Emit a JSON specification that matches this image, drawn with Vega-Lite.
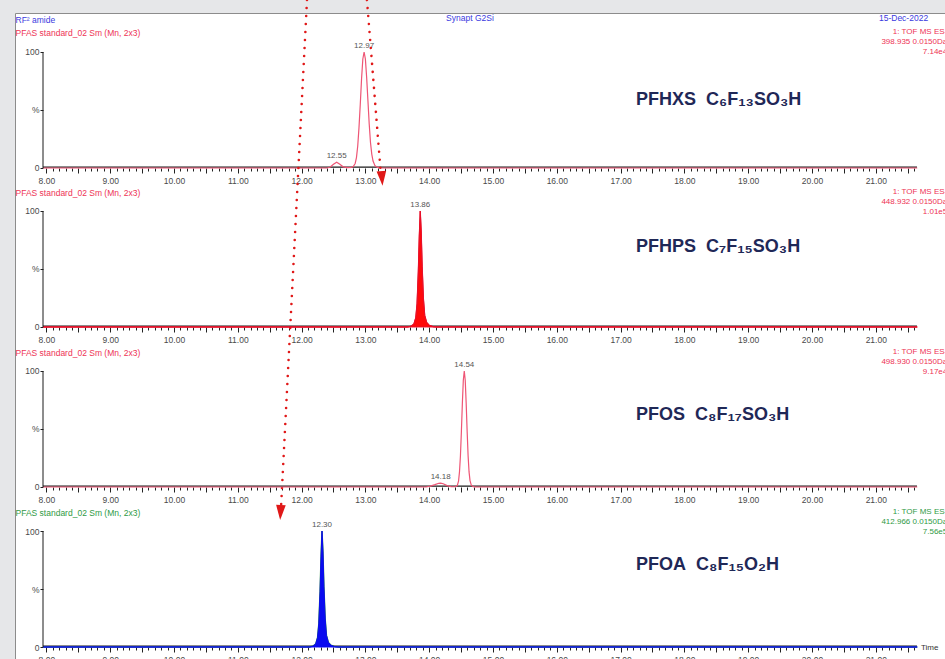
{
  "$schema": "https://vega.github.io/schema/vega-lite/v6.json",
  "width": 930,
  "height": 646,
  "autosize": {"type": "none"},
  "padding": {"left": 15, "top": 13, "right": 0, "bottom": 0},
  "background": "#e6e7e9",
  "config": {
    "font": "Liberation Sans",
    "view": {"fill": "white", "stroke": "#8c8c8c", "strokeWidth": 1},
    "axis": {"domain": false, "grid": false, "tickColor": "#222222", "tickWidth": 1, "labelColor": "#4a4a4a", "labelFontSize": 8.5, "labelOverlap": false, "labelFlush": false, "labelBound": false}
  },
  "datasets": {
    "pfhxs": [
      {"time": 7.95, "intensity": 0}, {"time": 12.40, "intensity": 0}, {"time": 12.45, "intensity": 0.8}, {"time": 12.50, "intensity": 3.2}, {"time": 12.55, "intensity": 5}, {"time": 12.60, "intensity": 3.2}, {"time": 12.65, "intensity": 1}, {"time": 12.72, "intensity": 0.3}, {"time": 12.78, "intensity": 0.5}, {"time": 12.81, "intensity": 1.2}, {"time": 12.84, "intensity": 3.9}, {"time": 12.86, "intensity": 9}, {"time": 12.88, "intensity": 19}, {"time": 12.90, "intensity": 35}, {"time": 12.92, "intensity": 55}, {"time": 12.94, "intensity": 77}, {"time": 12.96, "intensity": 94}, {"time": 12.98, "intensity": 100}, {"time": 13.00, "intensity": 94}, {"time": 13.02, "intensity": 78}, {"time": 13.04, "intensity": 58}, {"time": 13.06, "intensity": 38}, {"time": 13.08, "intensity": 22}, {"time": 13.10, "intensity": 12}, {"time": 13.12, "intensity": 6}, {"time": 13.15, "intensity": 2}, {"time": 13.19, "intensity": 0.5}, {"time": 13.24, "intensity": 0}, {"time": 21.65, "intensity": 0}
    ],
    "pfhxs_peaks": [{"time": 12.98, "intensity": 100, "label": "12.97"}, {"time": 12.55, "intensity": 5, "label": "12.55"}],
    "pfhps": [
      {"time": 7.95, "intensity": 0}, {"time": 13.66, "intensity": 0}, {"time": 13.72, "intensity": 0.8}, {"time": 13.76, "intensity": 2.5}, {"time": 13.79, "intensity": 8}, {"time": 13.81, "intensity": 20}, {"time": 13.83, "intensity": 48}, {"time": 13.845, "intensity": 78}, {"time": 13.86, "intensity": 100}, {"time": 13.875, "intensity": 82}, {"time": 13.89, "intensity": 52}, {"time": 13.91, "intensity": 24}, {"time": 13.93, "intensity": 10}, {"time": 13.96, "intensity": 4}, {"time": 14.00, "intensity": 1.5}, {"time": 14.06, "intensity": 0.3}, {"time": 14.12, "intensity": 0}, {"time": 21.65, "intensity": 0}
    ],
    "pfhps_peaks": [{"time": 13.86, "intensity": 100, "label": "13.86"}],
    "pfos": [
      {"time": 7.95, "intensity": 0}, {"time": 13.95, "intensity": 0}, {"time": 14.02, "intensity": 0.8}, {"time": 14.09, "intensity": 2}, {"time": 14.15, "intensity": 3.2}, {"time": 14.18, "intensity": 3.4}, {"time": 14.22, "intensity": 2.8}, {"time": 14.28, "intensity": 1.2}, {"time": 14.34, "intensity": 0.4}, {"time": 14.41, "intensity": 0.2}, {"time": 14.44, "intensity": 1.2}, {"time": 14.46, "intensity": 5}, {"time": 14.475, "intensity": 13}, {"time": 14.49, "intensity": 27}, {"time": 14.505, "intensity": 48}, {"time": 14.52, "intensity": 72}, {"time": 14.535, "intensity": 92}, {"time": 14.55, "intensity": 100}, {"time": 14.565, "intensity": 92}, {"time": 14.58, "intensity": 72}, {"time": 14.595, "intensity": 48}, {"time": 14.61, "intensity": 27}, {"time": 14.625, "intensity": 13}, {"time": 14.64, "intensity": 5.5}, {"time": 14.66, "intensity": 1.5}, {"time": 14.69, "intensity": 0.3}, {"time": 14.72, "intensity": 0}, {"time": 21.65, "intensity": 0}
    ],
    "pfos_peaks": [{"time": 14.55, "intensity": 100, "label": "14.54"}, {"time": 14.18, "intensity": 3.4, "label": "14.18"}],
    "pfoa": [
      {"time": 7.95, "intensity": 0}, {"time": 12.12, "intensity": 0}, {"time": 12.18, "intensity": 0.8}, {"time": 12.22, "intensity": 2.5}, {"time": 12.25, "intensity": 8}, {"time": 12.27, "intensity": 20}, {"time": 12.29, "intensity": 48}, {"time": 12.305, "intensity": 78}, {"time": 12.32, "intensity": 100}, {"time": 12.335, "intensity": 82}, {"time": 12.35, "intensity": 52}, {"time": 12.37, "intensity": 24}, {"time": 12.39, "intensity": 10}, {"time": 12.42, "intensity": 4}, {"time": 12.46, "intensity": 1.5}, {"time": 12.52, "intensity": 0.3}, {"time": 12.58, "intensity": 0}, {"time": 21.65, "intensity": 0}
    ],
    "pfoa_peaks": [{"time": 12.32, "intensity": 100, "label": "12.30"}]
  },
  "layer": [
    {
      "data": {"values": [{}]},
      "layer": [
        {"mark": {"type": "rule", "color": "#1a1a1a", "strokeWidth": 1.2, "yOffset": -0.8}, "encoding": {"x": {"datum": 7.947, "type": "quantitative"}, "x2": {"datum": 21.646}, "y": {"datum": 0, "type": "quantitative"}}},
        {
          "data": {"name": "pfhxs"},
          "mark": {"type": "line", "color": "#ee5575", "strokeWidth": 1.2},
          "encoding": {
            "x": {"field": "time", "type": "quantitative", "scale": {"domain": [7.508, 22.085], "nice": false, "zero": false},
              "axis": {"orient": "bottom", "offset": -491, "title": null, "tickCount": 300, "values": [8,8.1,8.2,8.3,8.4,8.5,8.6,8.7,8.8,8.9,9,9.1,9.2,9.3,9.4,9.5,9.6,9.7,9.8,9.9,10,10.1,10.2,10.3,10.4,10.5,10.6,10.7,10.8,10.9,11,11.1,11.2,11.3,11.4,11.5,11.6,11.7,11.8,11.9,12,12.1,12.2,12.3,12.4,12.5,12.6,12.7,12.8,12.9,13,13.1,13.2,13.3,13.4,13.5,13.6,13.7,13.8,13.9,14,14.1,14.2,14.3,14.4,14.5,14.6,14.7,14.8,14.9,15,15.1,15.2,15.3,15.4,15.5,15.6,15.7,15.8,15.9,16,16.1,16.2,16.3,16.4,16.5,16.6,16.7,16.8,16.9,17,17.1,17.2,17.3,17.4,17.5,17.6,17.7,17.8,17.9,18,18.1,18.2,18.3,18.4,18.5,18.6,18.7,18.8,18.9,19,19.1,19.2,19.3,19.4,19.5,19.6,19.7,19.8,19.9,20,20.1,20.2,20.3,20.4,20.5,20.6,20.7,20.8,20.9,21,21.1,21.2,21.3,21.4,21.5,21.6],
                "labelExpr": "abs(datum.value - round(datum.value)) < 0.01 ? format(datum.value, '.2f') : ''",
                "tickSize": {"condition": {"test": "abs(datum.value*2 - round(datum.value*2)) < 0.01", "value": 5}, "value": 3}, "labelPadding": 3}},
            "y": {"field": "intensity", "type": "quantitative", "scale": {"domain": [-423.28, 133.62], "nice": false, "zero": false},
              "axis": {"orient": "left", "offset": -28, "title": null, "values": [0, 50, 100], "labelExpr": "datum.value == 50 ? '%' : datum.label", "tickSize": 3, "labelPadding": 1}}
          }
        },
        {"mark": {"type": "rule", "color": "#1a1a1a", "strokeWidth": 1}, "encoding": {"x": {"datum": 7.947, "type": "quantitative"}, "y": {"datum": 0, "type": "quantitative"}, "y2": {"datum": 100}}},
        {"data": {"name": "pfhxs_peaks"}, "mark": {"type": "text", "fontSize": 8, "color": "#555555", "baseline": "bottom", "dy": -2}, "encoding": {"x": {"field": "time", "type": "quantitative"}, "y": {"field": "intensity", "type": "quantitative"}, "text": {"field": "label"}}},
        {"mark": {"type": "text", "fontSize": 8.5, "color": "#3a3ae0", "align": "left", "baseline": "middle"}, "encoding": {"x": {"datum": 7.516, "type": "quantitative"}, "y": {"datum": 127.6, "type": "quantitative"}, "text": {"value": "RF² amide"}}},
        {"mark": {"type": "text", "fontSize": 8.5, "color": "#3a3ae0", "align": "center", "baseline": "middle"}, "encoding": {"x": {"datum": 14.639, "type": "quantitative"}, "y": {"datum": 129.3, "type": "quantitative"}, "text": {"value": "Synapt G2Si"}}},
        {"mark": {"type": "text", "fontSize": 8.5, "color": "#3a3ae0", "align": "left", "baseline": "middle"}, "encoding": {"x": {"datum": 21.05, "type": "quantitative"}, "y": {"datum": 129.3, "type": "quantitative"}, "text": {"value": "15-Dec-2022"}}},
        {"mark": {"type": "text", "fontSize": 8.5, "color": "#ee3355", "align": "left", "baseline": "middle"}, "encoding": {"x": {"datum": 7.516, "type": "quantitative"}, "y": {"datum": 116.4, "type": "quantitative"}, "text": {"value": "PFAS standard_02 Sm (Mn, 2x3)"}}},
        {"mark": {"type": "text", "fontSize": 8, "color": "#ee3355", "align": "right", "baseline": "middle"}, "encoding": {"x": {"datum": 22.12, "type": "quantitative"}, "y": {"datum": 117.3, "type": "quantitative"}, "text": {"value": "1: TOF MS ES-"}}},
        {"mark": {"type": "text", "fontSize": 8, "color": "#ee3355", "align": "right", "baseline": "middle"}, "encoding": {"x": {"datum": 22.12, "type": "quantitative"}, "y": {"datum": 108.7, "type": "quantitative"}, "text": {"value": "398.935 0.0150Da"}}},
        {"mark": {"type": "text", "fontSize": 8, "color": "#ee3355", "align": "right", "baseline": "middle"}, "encoding": {"x": {"datum": 22.12, "type": "quantitative"}, "y": {"datum": 100.1, "type": "quantitative"}, "text": {"value": "7.14e4"}}},
        {"mark": {"type": "text", "fontSize": 18, "fontWeight": "bold", "color": "#1f2857", "align": "left", "baseline": "middle"}, "encoding": {"x": {"datum": 17.241, "type": "quantitative"}, "y": {"datum": 58.6, "type": "quantitative"}, "text": {"value": "PFHXS\u00a0\u00a0C₆F₁₃SO₃H"}}},
        {"mark": {"type": "rule", "color": "#e01818", "strokeWidth": 2.6, "strokeDash": [0.01, 8], "strokeCap": "round"}, "encoding": {"x": {"datum": 13.025, "type": "quantitative"}, "y": {"datum": 144.8, "type": "quantitative"}, "x2": {"datum": 13.245}, "y2": {"datum": -6.9}}},
        {"mark": {"type": "rule", "color": "#e01818", "strokeWidth": 2.6, "strokeDash": [0.01, 8], "strokeCap": "round"}, "encoding": {"x": {"datum": 12.085, "type": "quantitative"}, "y": {"datum": 144.8, "type": "quantitative"}, "x2": {"datum": 11.677}, "y2": {"datum": -293.1}}},
        {"mark": {"type": "point", "shape": "M-0.65,-1L0.65,-1L0,1Z", "size": 220, "filled": true, "color": "#e01818", "opacity": 1, "angle": -4.5}, "encoding": {"x": {"datum": 13.26, "type": "quantitative"}, "y": {"datum": -9, "type": "quantitative"}}},
        {"mark": {"type": "point", "shape": "M-0.65,-1L0.65,-1L0,1Z", "size": 220, "filled": true, "color": "#e01818", "opacity": 1, "angle": 3}, "encoding": {"x": {"datum": 11.67, "type": "quantitative"}, "y": {"datum": -297, "type": "quantitative"}}}
      ]
    },
    {
      "data": {"values": [{}]},
      "layer": [
        {"mark": {"type": "rule", "color": "#1a1a1a", "strokeWidth": 1.2, "yOffset": -0.8}, "encoding": {"x": {"datum": 7.947, "type": "quantitative"}, "x2": {"datum": 21.646}, "y": {"datum": 0, "type": "quantitative"}}},
        {
          "data": {"name": "pfhps"},
          "mark": {"type": "line", "color": "#e8102a", "strokeWidth": 1.2},
          "encoding": {
            "x": {"field": "time", "type": "quantitative", "scale": {"domain": [7.508, 22.085], "nice": false, "zero": false},
              "axis": {"orient": "bottom", "offset": -332, "title": null, "tickCount": 300, "values": [8,8.1,8.2,8.3,8.4,8.5,8.6,8.7,8.8,8.9,9,9.1,9.2,9.3,9.4,9.5,9.6,9.7,9.8,9.9,10,10.1,10.2,10.3,10.4,10.5,10.6,10.7,10.8,10.9,11,11.1,11.2,11.3,11.4,11.5,11.6,11.7,11.8,11.9,12,12.1,12.2,12.3,12.4,12.5,12.6,12.7,12.8,12.9,13,13.1,13.2,13.3,13.4,13.5,13.6,13.7,13.8,13.9,14,14.1,14.2,14.3,14.4,14.5,14.6,14.7,14.8,14.9,15,15.1,15.2,15.3,15.4,15.5,15.6,15.7,15.8,15.9,16,16.1,16.2,16.3,16.4,16.5,16.6,16.7,16.8,16.9,17,17.1,17.2,17.3,17.4,17.5,17.6,17.7,17.8,17.9,18,18.1,18.2,18.3,18.4,18.5,18.6,18.7,18.8,18.9,19,19.1,19.2,19.3,19.4,19.5,19.6,19.7,19.8,19.9,20,20.1,20.2,20.3,20.4,20.5,20.6,20.7,20.8,20.9,21,21.1,21.2,21.3,21.4,21.5,21.6],
                "labelExpr": "abs(datum.value - round(datum.value)) < 0.01 ? format(datum.value, '.2f') : ''",
                "tickSize": {"condition": {"test": "abs(datum.value*2 - round(datum.value*2)) < 0.01", "value": 5}, "value": 3}, "labelPadding": 3}},
            "y": {"field": "intensity", "type": "quantitative", "scale": {"domain": [-286.21, 270.69], "nice": false, "zero": false},
              "axis": {"orient": "left", "offset": -28, "title": null, "values": [0, 50, 100], "labelExpr": "datum.value == 50 ? '%' : datum.label", "tickSize": 3, "labelPadding": 1}}
          }
        },
        {"data": {"name": "pfhps"}, "mark": {"type": "area", "color": "#ff0a0a", "stroke": "#e8102a", "strokeWidth": 1}, "encoding": {"x": {"field": "time", "type": "quantitative"}, "y": {"field": "intensity", "type": "quantitative"}, "y2": {"datum": 0}}},
        {"mark": {"type": "rule", "color": "#1a1a1a", "strokeWidth": 1}, "encoding": {"x": {"datum": 7.947, "type": "quantitative"}, "y": {"datum": 0, "type": "quantitative"}, "y2": {"datum": 100}}},
        {"data": {"name": "pfhps_peaks"}, "mark": {"type": "text", "fontSize": 8, "color": "#555555", "baseline": "bottom", "dy": -2}, "encoding": {"x": {"field": "time", "type": "quantitative"}, "y": {"field": "intensity", "type": "quantitative"}, "text": {"field": "label"}}},
        {"mark": {"type": "text", "fontSize": 8.5, "color": "#ee3355", "align": "left", "baseline": "middle"}, "encoding": {"x": {"datum": 7.516, "type": "quantitative"}, "y": {"datum": 115.5, "type": "quantitative"}, "text": {"value": "PFAS standard_02 Sm (Mn, 2x3)"}}},
        {"mark": {"type": "text", "fontSize": 8, "color": "#ee3355", "align": "right", "baseline": "middle"}, "encoding": {"x": {"datum": 22.12, "type": "quantitative"}, "y": {"datum": 116.4, "type": "quantitative"}, "text": {"value": "1: TOF MS ES-"}}},
        {"mark": {"type": "text", "fontSize": 8, "color": "#ee3355", "align": "right", "baseline": "middle"}, "encoding": {"x": {"datum": 22.12, "type": "quantitative"}, "y": {"datum": 107.8, "type": "quantitative"}, "text": {"value": "448.932 0.0150Da"}}},
        {"mark": {"type": "text", "fontSize": 8, "color": "#ee3355", "align": "right", "baseline": "middle"}, "encoding": {"x": {"datum": 22.12, "type": "quantitative"}, "y": {"datum": 99.1, "type": "quantitative"}, "text": {"value": "1.01e5"}}},
        {"mark": {"type": "text", "fontSize": 18, "fontWeight": "bold", "color": "#1f2857", "align": "left", "baseline": "middle"}, "encoding": {"x": {"datum": 17.241, "type": "quantitative"}, "y": {"datum": 69.0, "type": "quantitative"}, "text": {"value": "PFHPS\u00a0\u00a0C₇F₁₅SO₃H"}}}
      ]
    },
    {
      "data": {"values": [{}]},
      "layer": [
        {"mark": {"type": "rule", "color": "#1a1a1a", "strokeWidth": 1.2, "yOffset": -0.8}, "encoding": {"x": {"datum": 7.947, "type": "quantitative"}, "x2": {"datum": 21.646}, "y": {"datum": 0, "type": "quantitative"}}},
        {
          "data": {"name": "pfos"},
          "mark": {"type": "line", "color": "#ee5575", "strokeWidth": 1.2},
          "encoding": {
            "x": {"field": "time", "type": "quantitative", "scale": {"domain": [7.508, 22.085], "nice": false, "zero": false},
              "axis": {"orient": "bottom", "offset": -172, "title": null, "tickCount": 300, "values": [8,8.1,8.2,8.3,8.4,8.5,8.6,8.7,8.8,8.9,9,9.1,9.2,9.3,9.4,9.5,9.6,9.7,9.8,9.9,10,10.1,10.2,10.3,10.4,10.5,10.6,10.7,10.8,10.9,11,11.1,11.2,11.3,11.4,11.5,11.6,11.7,11.8,11.9,12,12.1,12.2,12.3,12.4,12.5,12.6,12.7,12.8,12.9,13,13.1,13.2,13.3,13.4,13.5,13.6,13.7,13.8,13.9,14,14.1,14.2,14.3,14.4,14.5,14.6,14.7,14.8,14.9,15,15.1,15.2,15.3,15.4,15.5,15.6,15.7,15.8,15.9,16,16.1,16.2,16.3,16.4,16.5,16.6,16.7,16.8,16.9,17,17.1,17.2,17.3,17.4,17.5,17.6,17.7,17.8,17.9,18,18.1,18.2,18.3,18.4,18.5,18.6,18.7,18.8,18.9,19,19.1,19.2,19.3,19.4,19.5,19.6,19.7,19.8,19.9,20,20.1,20.2,20.3,20.4,20.5,20.6,20.7,20.8,20.9,21,21.1,21.2,21.3,21.4,21.5,21.6],
                "labelExpr": "abs(datum.value - round(datum.value)) < 0.01 ? format(datum.value, '.2f') : ''",
                "tickSize": {"condition": {"test": "abs(datum.value*2 - round(datum.value*2)) < 0.01", "value": 5}, "value": 3}, "labelPadding": 3}},
            "y": {"field": "intensity", "type": "quantitative", "scale": {"domain": [-148.28, 408.62], "nice": false, "zero": false},
              "axis": {"orient": "left", "offset": -28, "title": null, "values": [0, 50, 100], "labelExpr": "datum.value == 50 ? '%' : datum.label", "tickSize": 3, "labelPadding": 1}}
          }
        },
        {"mark": {"type": "rule", "color": "#1a1a1a", "strokeWidth": 1}, "encoding": {"x": {"datum": 7.947, "type": "quantitative"}, "y": {"datum": 0, "type": "quantitative"}, "y2": {"datum": 100}}},
        {"data": {"name": "pfos_peaks"}, "mark": {"type": "text", "fontSize": 8, "color": "#555555", "baseline": "bottom", "dy": -2}, "encoding": {"x": {"field": "time", "type": "quantitative"}, "y": {"field": "intensity", "type": "quantitative"}, "text": {"field": "label"}}},
        {"mark": {"type": "text", "fontSize": 8.5, "color": "#ee3355", "align": "left", "baseline": "middle"}, "encoding": {"x": {"datum": 7.516, "type": "quantitative"}, "y": {"datum": 115.5, "type": "quantitative"}, "text": {"value": "PFAS standard_02 Sm (Mn, 2x3)"}}},
        {"mark": {"type": "text", "fontSize": 8, "color": "#ee3355", "align": "right", "baseline": "middle"}, "encoding": {"x": {"datum": 22.12, "type": "quantitative"}, "y": {"datum": 116.4, "type": "quantitative"}, "text": {"value": "1: TOF MS ES-"}}},
        {"mark": {"type": "text", "fontSize": 8, "color": "#ee3355", "align": "right", "baseline": "middle"}, "encoding": {"x": {"datum": 22.12, "type": "quantitative"}, "y": {"datum": 107.8, "type": "quantitative"}, "text": {"value": "498.930 0.0150Da"}}},
        {"mark": {"type": "text", "fontSize": 8, "color": "#ee3355", "align": "right", "baseline": "middle"}, "encoding": {"x": {"datum": 22.12, "type": "quantitative"}, "y": {"datum": 99.1, "type": "quantitative"}, "text": {"value": "9.17e4"}}},
        {"mark": {"type": "text", "fontSize": 18, "fontWeight": "bold", "color": "#1f2857", "align": "left", "baseline": "middle"}, "encoding": {"x": {"datum": 17.241, "type": "quantitative"}, "y": {"datum": 62.1, "type": "quantitative"}, "text": {"value": "PFOS\u00a0\u00a0C₈F₁₇SO₃H"}}}
      ]
    },
    {
      "data": {"values": [{}]},
      "layer": [
        {"mark": {"type": "rule", "color": "#1a1a1a", "strokeWidth": 1.2, "yOffset": -0.8}, "encoding": {"x": {"datum": 7.947, "type": "quantitative"}, "x2": {"datum": 21.646}, "y": {"datum": 0, "type": "quantitative"}}},
        {
          "data": {"name": "pfoa"},
          "mark": {"type": "line", "color": "#2f8f3f", "strokeWidth": 1.4},
          "encoding": {
            "x": {"field": "time", "type": "quantitative", "scale": {"domain": [7.508, 22.085], "nice": false, "zero": false},
              "axis": {"orient": "bottom", "offset": -12, "title": null, "tickCount": 300, "values": [8,8.1,8.2,8.3,8.4,8.5,8.6,8.7,8.8,8.9,9,9.1,9.2,9.3,9.4,9.5,9.6,9.7,9.8,9.9,10,10.1,10.2,10.3,10.4,10.5,10.6,10.7,10.8,10.9,11,11.1,11.2,11.3,11.4,11.5,11.6,11.7,11.8,11.9,12,12.1,12.2,12.3,12.4,12.5,12.6,12.7,12.8,12.9,13,13.1,13.2,13.3,13.4,13.5,13.6,13.7,13.8,13.9,14,14.1,14.2,14.3,14.4,14.5,14.6,14.7,14.8,14.9,15,15.1,15.2,15.3,15.4,15.5,15.6,15.7,15.8,15.9,16,16.1,16.2,16.3,16.4,16.5,16.6,16.7,16.8,16.9,17,17.1,17.2,17.3,17.4,17.5,17.6,17.7,17.8,17.9,18,18.1,18.2,18.3,18.4,18.5,18.6,18.7,18.8,18.9,19,19.1,19.2,19.3,19.4,19.5,19.6,19.7,19.8,19.9,20,20.1,20.2,20.3,20.4,20.5,20.6,20.7,20.8,20.9,21,21.1,21.2,21.3,21.4,21.5,21.6],
                "labelExpr": "abs(datum.value - round(datum.value)) < 0.01 ? format(datum.value, '.2f') : ''",
                "tickSize": {"condition": {"test": "abs(datum.value*2 - round(datum.value*2)) < 0.01", "value": 5}, "value": 3}, "labelPadding": 3}},
            "y": {"field": "intensity", "type": "quantitative", "scale": {"domain": [-10.34, 546.55], "nice": false, "zero": false},
              "axis": {"orient": "left", "offset": -28, "title": null, "values": [0, 50, 100], "labelExpr": "datum.value == 50 ? '%' : datum.label", "tickSize": 3, "labelPadding": 1}}
          }
        },
        {"data": {"name": "pfoa"}, "mark": {"type": "area", "color": "#0a0af0", "stroke": "#0a0af0", "strokeWidth": 1}, "encoding": {"x": {"field": "time", "type": "quantitative"}, "y": {"field": "intensity", "type": "quantitative"}, "y2": {"datum": 0}}},
        {"mark": {"type": "rule", "color": "#1a1a1a", "strokeWidth": 1}, "encoding": {"x": {"datum": 7.947, "type": "quantitative"}, "y": {"datum": 0, "type": "quantitative"}, "y2": {"datum": 100}}},
        {"data": {"name": "pfoa_peaks"}, "mark": {"type": "text", "fontSize": 8, "color": "#555555", "baseline": "bottom", "dy": -2}, "encoding": {"x": {"field": "time", "type": "quantitative"}, "y": {"field": "intensity", "type": "quantitative"}, "text": {"field": "label"}}},
        {"mark": {"type": "text", "fontSize": 8.5, "color": "#2f9a45", "align": "left", "baseline": "middle"}, "encoding": {"x": {"datum": 7.516, "type": "quantitative"}, "y": {"datum": 115.5, "type": "quantitative"}, "text": {"value": "PFAS standard_02 Sm (Mn, 2x3)"}}},
        {"mark": {"type": "text", "fontSize": 8, "color": "#2f9a45", "align": "right", "baseline": "middle"}, "encoding": {"x": {"datum": 22.12, "type": "quantitative"}, "y": {"datum": 116.4, "type": "quantitative"}, "text": {"value": "1: TOF MS ES-"}}},
        {"mark": {"type": "text", "fontSize": 8, "color": "#2f9a45", "align": "right", "baseline": "middle"}, "encoding": {"x": {"datum": 22.12, "type": "quantitative"}, "y": {"datum": 107.8, "type": "quantitative"}, "text": {"value": "412.966 0.0150Da"}}},
        {"mark": {"type": "text", "fontSize": 8, "color": "#2f9a45", "align": "right", "baseline": "middle"}, "encoding": {"x": {"datum": 22.12, "type": "quantitative"}, "y": {"datum": 99.1, "type": "quantitative"}, "text": {"value": "7.56e5"}}},
        {"mark": {"type": "text", "fontSize": 18, "fontWeight": "bold", "color": "#1f2857", "align": "left", "baseline": "middle"}, "encoding": {"x": {"datum": 17.241, "type": "quantitative"}, "y": {"datum": 70.7, "type": "quantitative"}, "text": {"value": "PFOA\u00a0\u00a0C₈F₁₅O₂H"}}},
        {"mark": {"type": "text", "fontSize": 8, "color": "#333333", "align": "left", "baseline": "middle"}, "encoding": {"x": {"datum": 21.708, "type": "quantitative"}, "y": {"datum": -1, "type": "quantitative"}, "text": {"value": "Time"}}}
      ]
    }
  ],
  "resolve": {"scale": {"x": "independent", "y": "independent"}, "axis": {"x": "independent", "y": "independent"}}
}
